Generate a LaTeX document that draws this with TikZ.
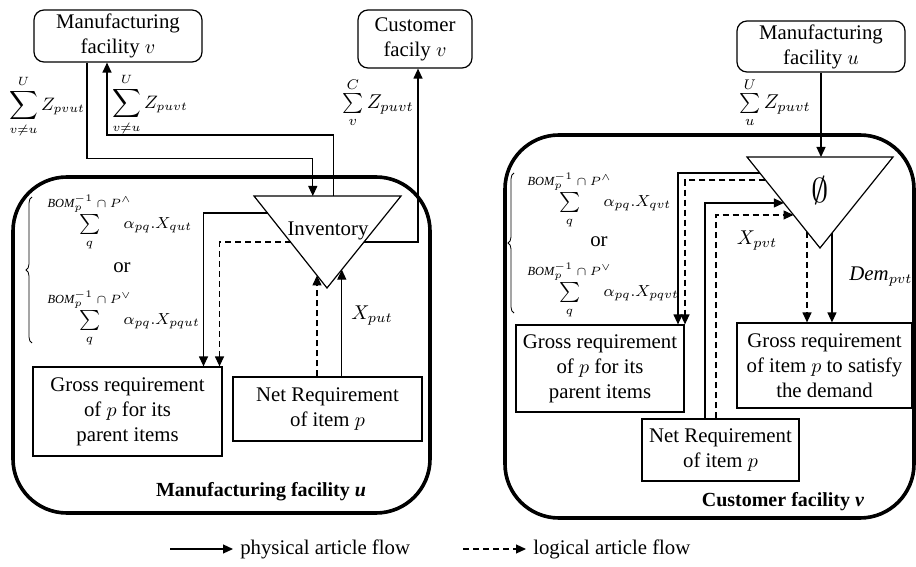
\documentclass[tikz,border=0pt]{standalone}
\usepackage{fontspec}
\setmainfont{Liberation Serif}
\usetikzlibrary{arrows.meta,calc,decorations.pathreplacing}
\newcommand{\bomlim}[1]{\hbox{\fontsize{6.2}{7}\selectfont$\mathit{BOM}_p^{-1}\cap P^{#1}$}}
\tikzset{
  facbox/.style={draw, rounded corners=5pt, align=center, inner sep=1pt},
  reqbox/.style={draw, align=center, inner sep=1pt},
  zone/.style={draw, line width=1.8pt, rounded corners=27pt},
  bomsum/.style={anchor=west, inner sep=0pt, font=\fontsize{8.3}{10}\selectfont},
  flow/.style={-{Triangle[length=5pt,width=4.5pt]}},
  logic/.style={flow, dash pattern=on 3pt off 2pt},
  fbrace/.style={decorate, decoration={brace, amplitude=3pt}, line width=0.4pt},
}
\begin{document}
\begin{tikzpicture}[x=0.5pt, y=-0.5pt, line width=0.6pt, font=\fontsize{10.4}{12.5}\selectfont]
    \useasboundingbox (0,0) rectangle (916,567);
    % manufacturing facility u
    \node[zone, minimum width=208.5pt, minimum height=168pt] (mfuzone) at (221.5,345) {};
    \node[facbox, minimum width=84pt, minimum height=26pt] (mfv) at (118,36) {Manufacturing\\facility $v$};
    \node[facbox, minimum width=57pt, minimum height=29pt] (cfv) at (415,39) {Customer\\facily $v$};
    \coordinate (invl) at (254,196);
    \coordinate (invr) at (401,196);
    \coordinate (inva) at (327,288);
    \draw (invl) -- (invr) -- (inva) -- cycle;
    \node (inv) at (328,231) {Inventory};
    \node[reqbox, minimum width=94.5pt, minimum height=44.5pt] (grossu) at (127.5,411.5) {Gross requirement\\of $p$ for its\\parent items};
    \node[reqbox, minimum width=94.5pt, minimum height=32pt] (netu) at (327.5,409) {Net Requirement\\of item $p$};
    \coordinate (inl) at ($(invl)!0.863!(inva)$);
    \coordinate (inr) at ($(invr)!0.8!(inva)$);
    \draw[flow] ([xshift=-15.5pt]mfv.south) -- ++(0,96) -| ($(invl)!0.4!(invr)$);
    \draw[flow] ($(invl)!0.54!(invr)$) -- ++(0,-61) -| ([xshift=-5.5pt]mfv.south);
    \draw[flow] ($(invr)!0.5!(inva)$) -| ([xshift=1.5pt]cfv.south);
    \draw[flow] ($(invl)!0.185!(inva)$) -| ([xshift=38pt]grossu.north);
    \draw[logic] ($(invl)!0.5!(inva)$) -| ([xshift=46pt]grossu.north);
    \draw[logic] (inl |- netu.north) -- (inl);
    \draw[flow] (inr |- netu.north) -- (inr);
    \node[font=\small] (zvu1) at (47,107) {$\displaystyle\sum_{v\neq u}^{U} Z_{pvut}$};
    \node[font=\small] (zvu2) at (150,105) {$\displaystyle\sum_{v\neq u}^{U} Z_{puvt}$};
    \node (zvc) at (378,103) {$\sum\limits_{v}^{C} Z_{puvt}$};
    \node (xput) at (372,316) {$X_{put}$};
    \node[bomsum] (sumu1) at (47,222) {${\sum\limits_{q}^{\bomlim{\wedge}}}\hspace{-4pt}\alpha_{pq}.X_{qut}$};
    \node (oru) at (122,268) {or};
    \node[bomsum] (sumu2) at (47,318) {${\sum\limits_{q}^{\bomlim{\vee}}}\hspace{-4pt}\alpha_{pq}.X_{pqut}$};
    \draw[fbrace] (32,343) -- (32,197);
    \node[font=\bfseries] (mfulbl) at (261,492) {Manufacturing facility \textit{u}};
    % customer facility v
    \node[zone, minimum width=204.5pt, minimum height=191.5pt] (cfvzone) at (709.5,326.5) {};
    \node[facbox, minimum width=84pt, minimum height=25.5pt] (mfu) at (821,46.5) {Manufacturing\\facility $u$};
    \coordinate (cvl) at (747,157);
    \coordinate (cvr) at (893,157);
    \coordinate (cva) at (820,248);
    \draw (cvl) -- (cvr) -- (cva) -- cycle;
    \node[font=\LARGE] (empty) at (820,191) {$\emptyset$};
    \node[reqbox, minimum width=84pt, minimum height=43.5pt] (grossv) at (600,368.5) {Gross requirement\\of $p$ for its\\parent items};
    \node[reqbox, minimum width=87.5pt, minimum height=42.5pt] (grossd) at (824.5,365.5) {Gross requirement\\of item $p$ to satisfy\\the demand};
    \node[reqbox, minimum width=78.5pt, minimum height=31pt] (netv) at (720.5,450) {Net Requirement\\of item $p$};
    \coordinate (cout1) at ($(cvl)!0.822!(cva)$);
    \coordinate (cout2) at ($(cvr)!0.836!(cva)$);
    \draw[flow] (mfu.south) -- (mfu.south |- cvl);
    \draw[flow] ($(cvl)!0.176!(cva)$) -| ([xshift=39pt]grossv.north);
    \draw[logic] ($(cvl)!0.253!(cva)$) -| ([xshift=42.5pt]grossv.north);
    \draw[flow] ([xshift=-7.75pt]netv.north) |- ($(cvl)!0.505!(cva)$);
    \draw[logic] ([xshift=-2.25pt]netv.north) |- ($(cvl)!0.637!(cva)$);
    \draw[logic] (cout1) -- (cout1 |- grossd.north);
    \draw[flow] (cout2) -- (cout2 |- grossd.north);
    \node (zuu) at (775,103) {$\sum\limits_{u}^{U} Z_{puvt}$};
    \node (xpvt) at (757,241) {$X_{pvt}$};
    \node (dem) at (881,277) {$\mathit{Dem}_{pvt}$};
    \node[bomsum] (sumv1) at (527,200) {${\sum\limits_{q}^{\bomlim{\wedge}}}\hspace{-4pt}\alpha_{pq}.X_{qvt}$};
    \node (orv) at (599,242) {or};
    \node[bomsum] (sumv2) at (527,290) {${\sum\limits_{q}^{\bomlim{\vee}}}\hspace{-4pt}\alpha_{pq}.X_{pqvt}$};
    \draw[fbrace] (514,313) -- (514,173);
    \node[font=\bfseries] (cfvlbl) at (783,502) {Customer facility \textit{v}};
    % legend
    \coordinate (physs) at (170,549);
    \coordinate (logs) at (463,549);
    \node[anchor=west] (physlbl) at (233,549) {physical article flow};
    \node[anchor=west] (loglbl) at (526,549) {logical article flow};
    \draw[flow] (physs) -- (physlbl.west);
    \draw[logic] (logs) -- (loglbl.west);
\end{tikzpicture}
\end{document}
